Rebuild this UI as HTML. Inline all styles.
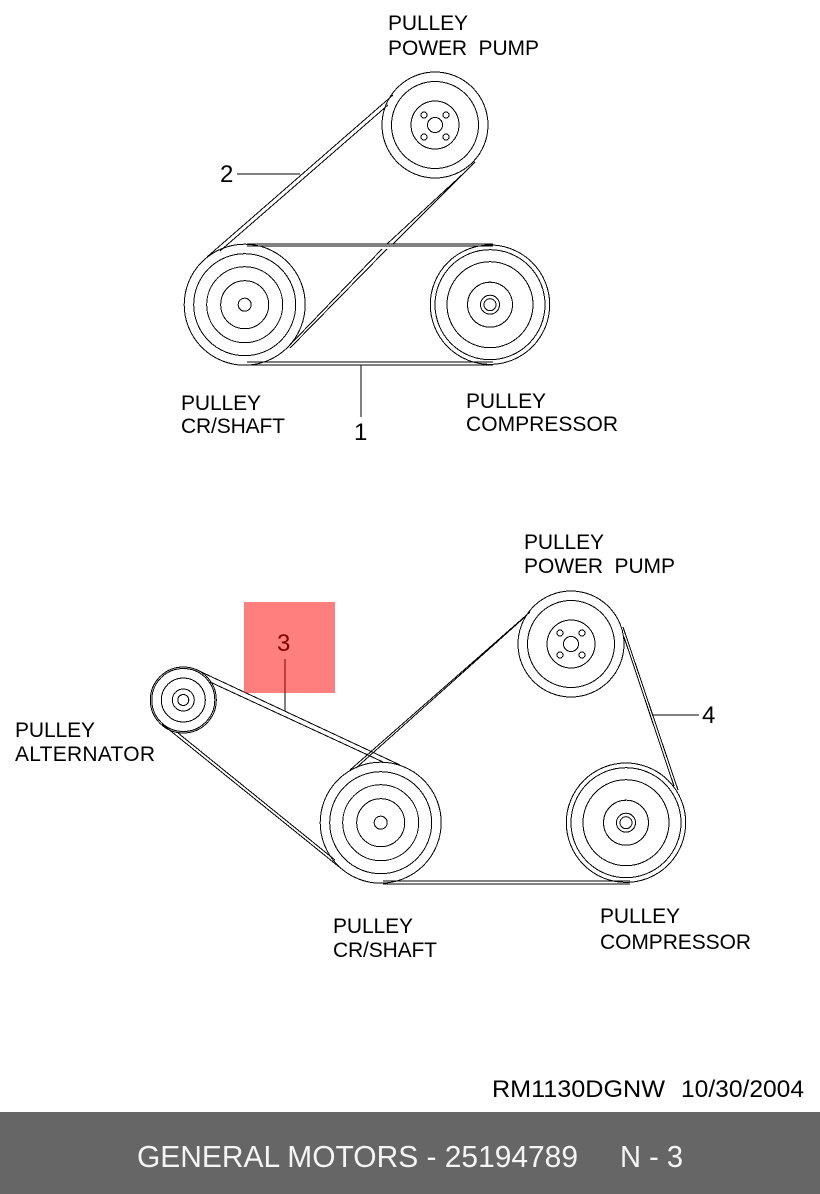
<!DOCTYPE html>
<html><head><meta charset="utf-8"><style>
html,body{margin:0;padding:0;background:#fff;width:820px;height:1194px;overflow:hidden}
svg{display:block}
.l{font:21px "Liberation Sans",sans-serif;fill:#000}
.n{font:24px "Liberation Sans",sans-serif;fill:#000}
.f{font:31px "Liberation Sans",sans-serif;fill:#f4f4f4}
.g line,.g circle{stroke:#000;stroke-width:1;fill:none;shape-rendering:crispEdges}
</style></head><body>
<svg width="820" height="1194" viewBox="0 0 820 1194" xmlns="http://www.w3.org/2000/svg">
<rect width="820" height="1194" fill="#fff"/>
<g class="g">
<!-- top diagram -->
<circle cx="435" cy="125" r="53"/><circle cx="435" cy="125" r="43.5"/><circle cx="435" cy="125" r="24"/><circle cx="435" cy="125" r="7.5"/>
<circle cx="424" cy="115" r="3"/><circle cx="446" cy="115" r="3"/><circle cx="424" cy="137" r="3"/><circle cx="446" cy="137" r="3"/>
<circle cx="244.7" cy="304.7" r="60.5"/><circle cx="244.7" cy="304.7" r="51"/><circle cx="244.7" cy="304.7" r="38"/><circle cx="244.7" cy="304.7" r="24"/><circle cx="244.7" cy="304.7" r="6.5"/>
<circle cx="490" cy="304.7" r="59.7"/><circle cx="490" cy="304.7" r="55"/><circle cx="490" cy="304.7" r="43"/><circle cx="490" cy="304.7" r="22.5"/><circle cx="490" cy="304.7" r="9.5"/><circle cx="490" cy="304.7" r="6"/>
<line x1="393" y1="95" x2="207" y2="257"/><line x1="388" y1="105" x2="220" y2="251"/>
<line x1="475" y1="162" x2="393" y2="244"/><line x1="387" y1="249" x2="290" y2="348"/>
<line x1="465" y1="172" x2="387" y2="244"/><line x1="382" y1="249" x2="287" y2="348"/>
<line x1="247" y1="244" x2="493" y2="244"/><line x1="247" y1="246" x2="493" y2="246"/>
<line x1="247" y1="362" x2="493" y2="362"/><line x1="247" y1="365" x2="493" y2="365"/>
<line x1="361" y1="365" x2="361" y2="417"/><line x1="237" y1="174" x2="300" y2="174"/>
<!-- bottom diagram -->
<circle cx="183.3" cy="700" r="33"/><circle cx="183.3" cy="700" r="31.5"/><circle cx="183.3" cy="700" r="22"/><circle cx="183.3" cy="700" r="11"/><circle cx="183.3" cy="700" r="5.5"/>
<circle cx="380.7" cy="822.7" r="60.5"/><circle cx="380.7" cy="822.7" r="51"/><circle cx="380.7" cy="822.7" r="38"/><circle cx="380.7" cy="822.7" r="24"/><circle cx="380.7" cy="822.7" r="6.5"/>
<circle cx="571" cy="644" r="53"/><circle cx="571" cy="644" r="43.5"/><circle cx="571" cy="644" r="24"/><circle cx="571" cy="644" r="7.5"/>
<circle cx="560" cy="633" r="3"/><circle cx="582" cy="633" r="3"/><circle cx="560" cy="655" r="3"/><circle cx="582" cy="655" r="3"/>
<circle cx="626" cy="822.7" r="59.7"/><circle cx="626" cy="822.7" r="55"/><circle cx="626" cy="822.7" r="43"/><circle cx="626" cy="822.7" r="22.5"/><circle cx="626" cy="822.7" r="9.5"/><circle cx="626" cy="822.7" r="6"/>
<line x1="197" y1="670" x2="400" y2="765"/><line x1="210" y1="682" x2="383" y2="762"/>
<line x1="178" y1="733" x2="335" y2="860"/><line x1="162" y1="724" x2="343" y2="870"/>
<line x1="530" y1="612" x2="350" y2="770"/><line x1="526" y1="616" x2="356" y2="768"/>
<line x1="623" y1="627" x2="678" y2="790"/><line x1="624" y1="637" x2="674" y2="786"/>
<line x1="383" y1="881" x2="630" y2="881"/><line x1="383" y1="884" x2="630" y2="884"/>
<line x1="285" y1="659" x2="285" y2="711"/><line x1="653" y1="715" x2="699" y2="715"/>
</g>
<text class="l" x="388" y="30" textLength="80">PULLEY</text>
<text class="l" x="388" y="55" xml:space="preserve" textLength="151">POWER  PUMP</text>
<text class="l" x="181" y="410" textLength="80">PULLEY</text>
<text class="l" x="181" y="433" textLength="104">CR/SHAFT</text>
<text class="l" x="466" y="408" textLength="80">PULLEY</text>
<text class="l" x="466" y="431" textLength="152">COMPRESSOR</text>
<text class="l" x="524" y="549" textLength="80">PULLEY</text>
<text class="l" x="524" y="573" xml:space="preserve" textLength="151">POWER  PUMP</text>
<text class="l" x="15" y="737" textLength="80">PULLEY</text>
<text class="l" x="15" y="761" textLength="140">ALTERNATOR</text>
<text class="l" x="333" y="933" textLength="80">PULLEY</text>
<text class="l" x="333" y="957" textLength="104">CR/SHAFT</text>
<text class="l" x="600" y="923" textLength="80">PULLEY</text>
<text class="l" x="600" y="949" textLength="151">COMPRESSOR</text>
<text class="n" x="220" y="182">2</text>
<text class="n" x="354" y="440">1</text>
<text class="n" x="277" y="651">3</text>
<text class="n" x="702" y="723">4</text>
<text class="l" x="492" y="1097" textLength="173" lengthAdjust="spacingAndGlyphs" style="font-size:24px">RM1130DGNW</text>
<text class="l" x="681" y="1097" textLength="123" lengthAdjust="spacingAndGlyphs" style="font-size:24px">10/30/2004</text>
<rect x="244" y="602" width="91" height="91" fill="#ff0000" fill-opacity="0.5"/>
<rect x="0" y="1112" width="820" height="82" fill="#666"/>
<text class="f" x="137" y="1167" textLength="441" lengthAdjust="spacingAndGlyphs">GENERAL MOTORS - 25194789</text>
<text class="f" x="620" y="1167" textLength="63" lengthAdjust="spacingAndGlyphs">N - 3</text>
</svg>
</body></html>
